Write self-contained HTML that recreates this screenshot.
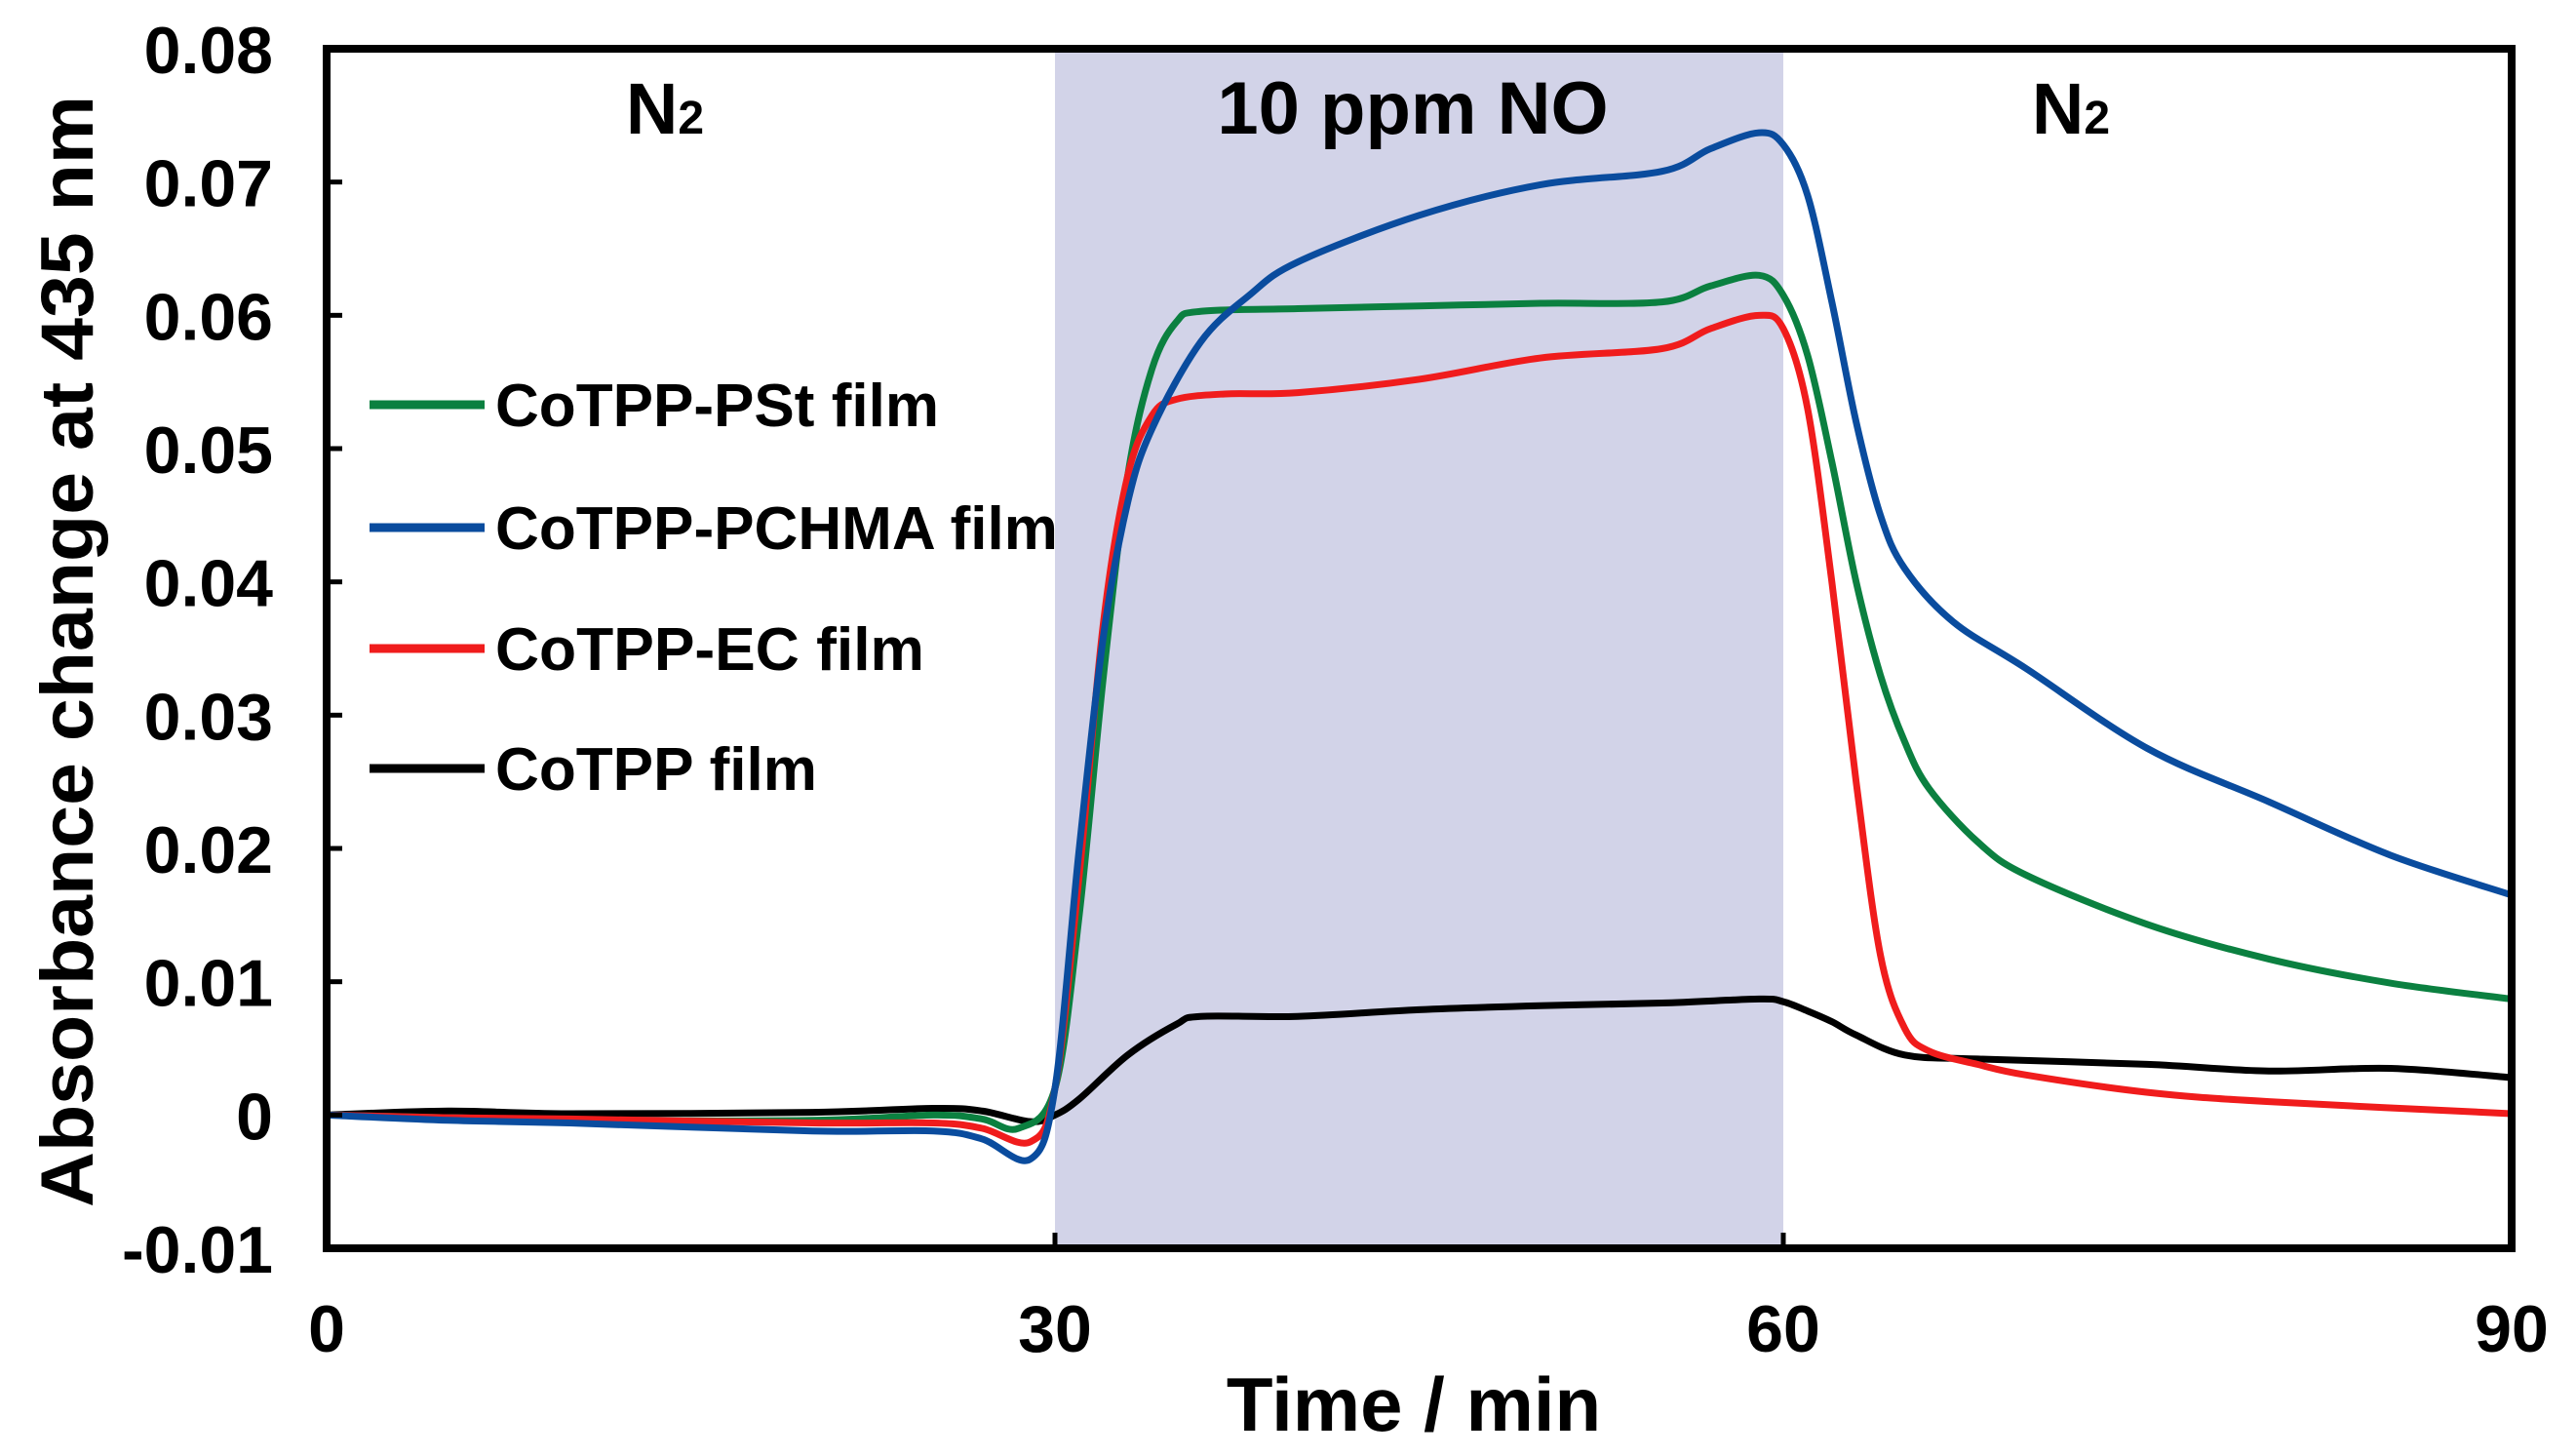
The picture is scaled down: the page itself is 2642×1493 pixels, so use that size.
<!DOCTYPE html>
<html><head><meta charset="utf-8"><style>
html,body{margin:0;padding:0;background:#fff;}
svg{display:block;font-family:"Liberation Sans",Arial,sans-serif;font-weight:bold;}
</style></head><body>
<svg id="chart" width="2642" height="1493" viewBox="0 0 2642 1493" xmlns="http://www.w3.org/2000/svg">
<g id="band"></g><g id="series"></g><g id="axes"></g><g id="labels"></g>
</svg>
<script>
const xTicks=[0,30,60,90];
const yTicks=[-0.01,0,0.01,0.02,0.03,0.04,0.05,0.06,0.07,0.08];
const yTickLabels=["-0.01","0","0.01","0.02","0.03","0.04","0.05","0.06","0.07","0.08"];
const exposureWindow=[30,60];
const seriesNames=["CoTPP-PSt film","CoTPP-PCHMA film","CoTPP-EC film","CoTPP film"];
const seriesColors=["#0b8040","#0a4c9e","#f01c1c","#000000"];
const tPSt=[0,5,10,20,25,27,28.5,30,31,32,33,34,35,36,40,45,50,55,57,59,60,61,62,63,64,65,66,68,70,75,80,85,90];
const vPSt=[0,-0.0002,-0.0004,-0.0004,0,-0.0003,-0.001,0.002,0.015,0.033,0.048,0.056,0.0595,0.0603,0.0605,0.0607,0.0609,0.061,0.0622,0.063,0.0615,0.057,0.049,0.04,0.033,0.028,0.0245,0.0205,0.018,0.0143,0.0117,0.0099,0.0087];
const tPCHMA=[0,5,10,20,25,27,29,30,31,32,33,34,36,38,40,45,50,55,57,59,60,61,62,63,64,65,67,70,75,80,85,90];
const vPCHMA=[0,-0.0004,-0.0006,-0.0012,-0.0012,-0.0018,-0.0033,0.002,0.02,0.036,0.046,0.0515,0.058,0.0615,0.064,0.0675,0.0698,0.0708,0.0725,0.0737,0.0728,0.069,0.061,0.052,0.045,0.041,0.037,0.0335,0.0275,0.0235,0.0195,0.0165];
const tEC=[0,5,10,20,25,27,29,30,31,32,33,34,35,37,40,45,50,55,57,59,60,61,62,63,64,65,66,68,70,75,80,90];
const vEC=[0,-0.0002,-0.0003,-0.0006,-0.0006,-0.001,-0.002,0.002,0.018,0.037,0.048,0.0525,0.0537,0.0541,0.0542,0.0552,0.0568,0.0575,0.059,0.06,0.059,0.053,0.04,0.025,0.012,0.0065,0.0048,0.0038,0.003,0.0017,0.001,0.0001];
const tBare=[0,5,10,20,25,27,29,30,31,33,35,36,40,45,50,55,59,60,61,62,63,65,68,75,80,85,90];
const vBare=[0,0.0003,0.0001,0.0002,0.0005,0.0003,-0.0005,0,0.0012,0.0045,0.0068,0.0074,0.0074,0.0079,0.0082,0.0084,0.0087,0.0085,0.0078,0.007,0.006,0.0045,0.0042,0.0038,0.0033,0.0035,0.0028];
const seriesT=[tPSt,tPCHMA,tEC,tBare];
const seriesV=[vPSt,vPCHMA,vEC,vBare];

const L=335,R=2576,T=50,B=1280,xMin=0,xMax=90,yMin=-0.01,yMax=0.08;
const xs=t=>L+(t-xMin)/(xMax-xMin)*(R-L);
const ys=v=>B-(v-yMin)/(yMax-yMin)*(B-T);
const NS="http://www.w3.org/2000/svg";
function mk(tag,parent,attrs){const e=document.createElementNS(NS,tag);for(const k in attrs)e.setAttribute(k,attrs[k]);document.getElementById(parent).appendChild(e);return e;}

const band=mk('rect','band',{x:xs(exposureWindow[0]),y:T,width:xs(exposureWindow[1])-xs(exposureWindow[0]),height:B-T,fill:'#d2d3e8'});



function smoothPath(ts,vs){
  const p=ts.map((t,i)=>[xs(t),ys(vs[i])]);
  let d=`M${p[0][0]},${p[0][1]}`;
  for(let i=0;i<p.length-1;i++){
    const p0=p[Math.max(0,i-1)],p1=p[i],p2=p[i+1],p3=p[Math.min(p.length-1,i+2)];
    const c1=[p1[0]+(p2[0]-p0[0])/6,p1[1]+(p2[1]-p0[1])/6];
    const c2=[p2[0]-(p3[0]-p1[0])/6,p2[1]-(p3[1]-p1[1])/6];
    d+=` C${c1[0]},${c1[1]} ${c2[0]},${c2[1]} ${p2[0]},${p2[1]}`;
  }
  return d;
}
const drawOrder=[3,0,2,1];
drawOrder.forEach(i=>{
  const path=mk('path','series',{d:smoothPath(seriesT[i],seriesV[i]),fill:'none',stroke:seriesColors[i],'stroke-width':7,'stroke-linejoin':'round'});
  
  
});

const frame=mk('rect','axes',{x:L,y:T,width:R-L,height:B-T,fill:'none',stroke:'#000','stroke-width':8});


yTicks.forEach((v,i)=>{
  const tk=mk('line','axes',{x1:L,x2:L+16,y1:ys(v),y2:ys(v),stroke:'#000','stroke-width':5});
  
  
  const lb=mk('text','labels',{x:280,y:ys(v)+25,'text-anchor':'end','font-size':68});
  lb.textContent=yTickLabels[i];
  
  
});
xTicks.forEach(t=>{
  const tk=mk('line','axes',{x1:xs(t),x2:xs(t),y1:B,y2:B-16,stroke:'#000','stroke-width':5});
  
  
  const lb=mk('text','labels',{x:xs(t),y:1386,'text-anchor':'middle','font-size':68});
  lb.textContent=String(t);
  
  
});

const xt=mk('text','labels',{x:1450,y:1467,'text-anchor':'middle','font-size':78});
xt.textContent='Time / min';


const yt=mk('text','labels',{x:0,y:0,'text-anchor':'middle','font-size':76,transform:'translate(95,668) rotate(-90)',textLength:1140,lengthAdjust:'spacingAndGlyphs'});
yt.textContent='Absorbance change at 435 nm';



const reg=mk('text','labels',{x:1449,y:137,'text-anchor':'middle','font-size':76});
reg.textContent='10 ppm NO';


[682,2124].forEach((x,i)=>{
  const n=mk('text','labels',{x:x,y:137,'text-anchor':'middle','font-size':74});
  n.innerHTML='N<tspan font-size="48" dy="0">2</tspan>';
  
  
});

const legY=[415,541,665,788];
const legLens=[455,577,440,330];
legY.forEach((y,i)=>{
  const ln=mk('line','labels',{x1:379,x2:497,y1:y,y2:y,stroke:seriesColors[i],'stroke-width':9});
  
  
  const tx=mk('text','labels',{x:508,y:y+22,'font-size':62,textLength:legLens[i],lengthAdjust:'spacingAndGlyphs'});
  tx.textContent=seriesNames[i];
  
  
});
</script>
</body></html>
